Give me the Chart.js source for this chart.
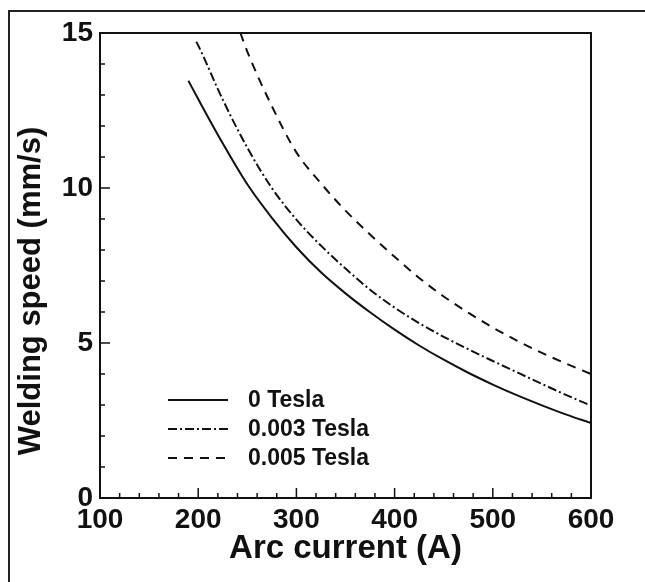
<!DOCTYPE html>
<html>
<head>
<meta charset="utf-8">
<script src="https://cdn.jsdelivr.net/npm/chart.js@4.4.1/dist/chart.umd.min.js"></script>
<style>
  html, body { margin: 0; padding: 0; background: #fff; }
  #wrap { width: 645px; height: 582px; position: relative; }
</style>
</head>
<body>
<div id="wrap"><canvas id="c" width="645" height="582"></canvas></div>
<script>
// ---- data ----
const current0   = [190, 200, 225, 250, 275, 300, 325, 350, 375, 400, 425, 450, 475, 500, 525, 550, 575, 600];
const speed0     = [13.46, 12.87, 11.44, 10.12, 9.04, 8.09, 7.28, 6.6, 5.99, 5.43, 4.92, 4.46, 4.04, 3.66, 3.31, 2.99, 2.69, 2.42];
const current003 = [198, 200, 225, 250, 275, 300, 325, 350, 375, 400, 425, 450, 475, 500, 525, 550, 575, 600];
const speed003   = [14.72, 14.6, 12.85, 11.3, 10.0, 8.98, 8.14, 7.4, 6.72, 6.14, 5.64, 5.2, 4.8, 4.42, 4.05, 3.68, 3.32, 2.98];
const current005 = [243, 250, 275, 300, 325, 350, 375, 400, 425, 450, 475, 500, 525, 550, 575, 600];
const speed005   = [15.0, 14.4, 12.64, 11.15, 10.15, 9.27, 8.5, 7.78, 7.1, 6.5, 5.98, 5.5, 5.07, 4.68, 4.33, 4.0];
const seriesNames = ['0 Tesla', '0.003 Tesla', '0.005 Tesla'];
const xTitle = 'Arc current (A)';
const yTitle = 'Welding speed (mm/s)';

const FONT = '"Liberation Sans", Arial, Helvetica, sans-serif';
const pts = (xs, ys) => xs.map((x, i) => ({x: x, y: ys[i]}));
const dashes = [[], [9, 3, 2, 3], [9, 7]];

const frame = {
  id: 'frame',
  beforeDraw(chart) {
    const ctx = chart.ctx;
    ctx.save();
    ctx.fillStyle = '#fff';
    ctx.fillRect(0, 0, chart.width, chart.height);
    ctx.strokeStyle = '#222';
    ctx.lineWidth = 2;
    ctx.beginPath();
    ctx.moveTo(9, chart.height + 5);
    ctx.lineTo(9, 11);
    ctx.lineTo(chart.width + 5, 11);
    ctx.stroke();
    ctx.restore();
  },
  afterDraw(chart) {
    const ctx = chart.ctx, a = chart.chartArea;
    const xs = chart.scales.x, ys = chart.scales.y;
    ctx.save();
    ctx.strokeStyle = '#111';
    ctx.lineWidth = 2;
    ctx.strokeRect(a.left, a.top, a.right - a.left, a.bottom - a.top);
    // inward ticks
    ctx.lineWidth = 1.5;
    ctx.beginPath();
    for (let v = 120; v < 600; v += 20) {
      const p = xs.getPixelForValue(v);
      const len = (v % 100 === 0) ? 10 : 5;
      ctx.moveTo(p, a.bottom); ctx.lineTo(p, a.bottom - len);
    }
    for (let v = 1; v < 15; v += 1) {
      const p = ys.getPixelForValue(v);
      const len = (v % 5 === 0) ? 10 : 5;
      ctx.moveTo(a.left, p); ctx.lineTo(a.left + len, p);
    }
    ctx.stroke();
    // y title
    ctx.fillStyle = '#111';
    ctx.font = 'bold 31px ' + FONT;
    ctx.textAlign = 'center';
    ctx.textBaseline = 'middle';
    ctx.translate(31, 291);
    ctx.rotate(-Math.PI / 2);
    ctx.fillText(yTitle, 0, 0);
    ctx.restore();
    // legend
    ctx.save();
    const rows = [400, 429, 458];
    chart.data.datasets.forEach((ds, i) => {
      ctx.strokeStyle = '#111';
      ctx.lineWidth = 2;
      ctx.setLineDash(ds.borderDash || []);
      ctx.beginPath();
      ctx.moveTo(168, rows[i]); ctx.lineTo(228, rows[i]);
      ctx.stroke();
      ctx.setLineDash([]);
      ctx.fillStyle = '#111';
      ctx.font = 'bold 23px ' + FONT;
      ctx.textAlign = 'left';
      ctx.textBaseline = 'middle';
      ctx.fillText(ds.label, 248, rows[i] + 1);
    });
    ctx.restore();
  }
};

new Chart(document.getElementById('c'), {
  type: 'line',
  data: {
    datasets: [
      {label: seriesNames[0], data: pts(current0, speed0)},
      {label: seriesNames[1], data: pts(current003, speed003)},
      {label: seriesNames[2], data: pts(current005, speed005)}
    ].map((d, i) => Object.assign(d, {
      borderColor: '#111', borderWidth: 2, borderDash: dashes[i],
      pointRadius: 0, cubicInterpolationMode: 'monotone', fill: false
    }))
  },
  options: {
    responsive: false,
    animation: false,
    layout: {padding: {left: 0, top: 33, right: 54, bottom: 0}},
    plugins: {legend: {display: false}, tooltip: {enabled: false}},
    scales: {
      x: {
        type: 'linear', min: 100, max: 600,
        afterFit: s => { s.height = 84; },
        ticks: {stepSize: 100, color: '#111', padding: 5, maxRotation: 0,
                font: {family: FONT, size: 28, weight: 'bold'}},
        grid: {display: true, drawOnChartArea: false, drawTicks: false},
        border: {display: true, color: '#111', width: 2},
        title: {display: true, text: xTitle, color: '#111',
                font: {family: FONT, size: 33, weight: 'bold'}, padding: {top: 0, bottom: 13}}
      },
      y: {
        type: 'linear', min: 0, max: 15,
        afterFit: s => { s.width = 100; },
        ticks: {stepSize: 5, color: '#111', padding: 7,
                font: {family: FONT, size: 28, weight: 'bold'}},
        grid: {display: true, drawOnChartArea: false, drawTicks: false},
        border: {display: true, color: '#111', width: 2},
        title: {display: false}
      }
    }
  },
  plugins: [frame]
});
</script>
</body>
</html>
